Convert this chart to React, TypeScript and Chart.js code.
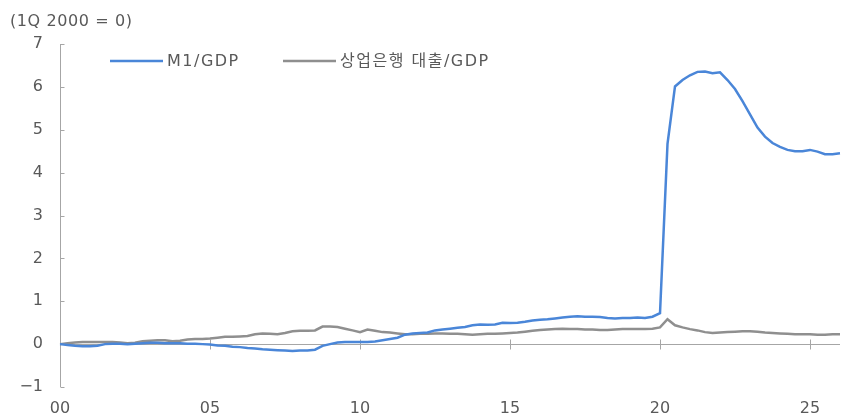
import { useEffect, useRef } from 'react';
import { Chart, registerables } from 'chart.js';

Chart.register(...registerables);

const FONT = '"DejaVu Sans", "Noto Sans CJK KR", sans-serif';
const TEXT_COLOR = '#595959';
const AXIS_COLOR = '#a6a6a6';

// Quarterly categories 1Q2000 .. 1Q2026
const quarters: string[] = [];
for (let yr = 2000; yr <= 2026; yr++) {
  for (let q = 1; q <= 4; q++) {
    if (yr === 2026 && q > 1) break;
    quarters.push(`${q}Q${String(yr % 100).padStart(2, '0')}`);
  }
}

const seriesNames = ['M1/GDP', '상업은행 대출/GDP'];
const seriesColors = ['#4a86d8', '#8f8f8f'];
const unitNote = '(1Q 2000 = 0)';
const yMin = -1;
const yMax = 7;

const m1ToGdp = [
  0, -0.02, -0.04, -0.05, -0.05, -0.04, 0, 0.01, 0.01, 0,
  0.01, 0.02, 0.03, 0.03, 0.02, 0.02, 0.02, 0.01, 0.01, 0,
  -0.01, -0.03, -0.04, -0.06, -0.07, -0.09, -0.1, -0.12, -0.13, -0.14,
  -0.15, -0.16, -0.15, -0.15, -0.13, -0.04, 0.0, 0.04, 0.05, 0.05,
  0.05, 0.05, 0.06, 0.09, 0.12, 0.15, 0.22, 0.25, 0.26, 0.27,
  0.32, 0.34, 0.36, 0.38, 0.4, 0.44, 0.46, 0.45, 0.46, 0.5,
  0.49, 0.5, 0.52, 0.55, 0.57, 0.58, 0.6, 0.62, 0.64, 0.65,
  0.64, 0.64, 0.63, 0.61, 0.6, 0.61, 0.61, 0.62, 0.61, 0.64,
  0.72, 4.67, 6.01, 6.16, 6.27, 6.35, 6.36, 6.32, 6.34, 6.16,
  5.95, 5.67, 5.36, 5.05, 4.84, 4.69, 4.6, 4.53, 4.5, 4.5,
  4.53, 4.49, 4.43, 4.43, 4.45,
];

const loansToGdp = [
  0, 0.02, 0.04, 0.05, 0.05, 0.05, 0.05, 0.05, 0.04, 0.02,
  0.03, 0.07, 0.08, 0.09, 0.09, 0.07, 0.08, 0.11, 0.12, 0.12,
  0.13, 0.15, 0.17, 0.17, 0.18, 0.19, 0.23, 0.25, 0.24, 0.23,
  0.26, 0.3, 0.31, 0.31, 0.32, 0.41, 0.41, 0.4, 0.36, 0.32,
  0.28, 0.34, 0.31, 0.28, 0.27, 0.25, 0.23, 0.23, 0.24, 0.24,
  0.25, 0.25, 0.24, 0.24, 0.23, 0.22, 0.23, 0.24, 0.24, 0.25,
  0.26, 0.27, 0.29, 0.31, 0.33, 0.34, 0.35, 0.36, 0.35, 0.35,
  0.34, 0.34, 0.33, 0.33, 0.34, 0.35, 0.35, 0.35, 0.35, 0.36,
  0.39, 0.58, 0.44, 0.39, 0.35, 0.32, 0.28, 0.26, 0.27, 0.28,
  0.29, 0.3, 0.3, 0.29, 0.27, 0.26, 0.25, 0.24, 0.23, 0.23,
  0.23, 0.22, 0.22, 0.23, 0.23,
];

const isLabeledTick = (i: number) => i % 20 === 0;

const decorPlugin = {
  id: 'decor',
  beforeDatasetsDraw(chart: any) {
    const { ctx, chartArea, scales } = chart;
    const x = scales.x;
    const y = scales.y;
    ctx.save();
    ctx.strokeStyle = AXIS_COLOR;
    ctx.lineWidth = 1;
    ctx.beginPath();
    const xl = Math.round(chartArea.left) + 0.5;
    ctx.moveTo(xl, y.getPixelForValue(yMax));
    ctx.lineTo(xl, y.getPixelForValue(yMin));
    y.ticks.forEach((t: any) => {
      const py = Math.round(y.getPixelForValue(t.value)) + 0.5;
      ctx.moveTo(xl, py);
      ctx.lineTo(xl + 4, py);
    });
    const y0 = Math.round(y.getPixelForValue(0)) + 0.5;
    ctx.moveTo(chartArea.left, y0);
    ctx.lineTo(chartArea.right, y0);
    quarters.forEach((_, i) => {
      if (!isLabeledTick(i)) return;
      const px = Math.round(x.getPixelForValue(i)) + 0.5;
      ctx.moveTo(px, y0 - 5);
      ctx.lineTo(px, y0 + 5);
    });
    ctx.stroke();
    ctx.restore();
  },
  afterDraw(chart: any) {
    const { ctx, chartArea } = chart;
    ctx.save();
    ctx.fillStyle = TEXT_COLOR;
    ctx.font = `16px ${FONT}`;
    ctx.textBaseline = 'middle';
    ctx.textAlign = 'left';
    try { (ctx as any).letterSpacing = '0.6px'; } catch (e) {}
    ctx.fillText(unitNote, 10, 22);

    // legend inside plot area
    const legendY = 61;
    const starts = [chartArea.left + 50, chartArea.left + 223];
    chart.data.datasets.forEach((ds: any, i: number) => {
      const sx = starts[i];
      ctx.strokeStyle = ds.borderColor;
      ctx.lineWidth = 2.5;
      ctx.beginPath();
      ctx.moveTo(sx, legendY);
      ctx.lineTo(sx + 53, legendY);
      ctx.stroke();
      try { (ctx as any).letterSpacing = '1.5px'; } catch (e) {}
      ctx.fillStyle = TEXT_COLOR;
      ctx.fillText(ds.label, sx + 57, legendY + 1);
    });
    ctx.restore();
  },
};

export default function App() {
  const canvasRef = useRef<HTMLCanvasElement | null>(null);

  useEffect(() => {
    if (!canvasRef.current) return;
    const chart = new Chart(canvasRef.current, {
      type: 'line',
      data: {
        labels: quarters,
        datasets: [
          {
            label: seriesNames[0],
            data: m1ToGdp,
            borderColor: seriesColors[0],
            borderWidth: 2.5,
            pointRadius: 0,
            tension: 0,
          },
          {
            label: seriesNames[1],
            data: loansToGdp,
            borderColor: seriesColors[1],
            borderWidth: 2.5,
            pointRadius: 0,
            tension: 0,
          },
        ],
      },
      options: {
        animation: false,
        responsive: true,
        maintainAspectRatio: false,
        layout: { padding: { top: 44, right: 2, left: 0, bottom: 0 } },
        plugins: {
          legend: { display: false },
          title: { display: false },
          tooltip: { enabled: false },
        },
        scales: {
          x: {
            type: 'category',
            offset: false,
            grid: { display: false },
            border: { display: false },
            ticks: {
              autoSkip: false,
              maxRotation: 0,
              padding: 4,
              color: TEXT_COLOR,
              font: { family: FONT, size: 16 },
              callback: (_v: any, i: number) => (isLabeledTick(i) ? quarters[i].slice(2) : null),
            },
            afterFit: (s: any) => { s.height = 28; },
          },
          y: {
            min: yMin,
            max: yMax,
            grid: { display: false, drawTicks: false },
            border: { display: false },
            ticks: {
              stepSize: 1,
              padding: 17,
              color: TEXT_COLOR,
              font: { family: FONT, size: 16 },
              callback: (v: any) => (v < 0 ? '\u2212' + Math.abs(v) : String(v)),
            },
            afterFit: (s: any) => { s.width = 60; },
          },
        },
      },
      plugins: [decorPlugin],
    });
    return () => chart.destroy();
  }, []);

  return (
    <div style={{ position: 'fixed', left: 0, top: 0, width: 842, height: 415 }}>
      <canvas ref={canvasRef} />
    </div>
  );
}
